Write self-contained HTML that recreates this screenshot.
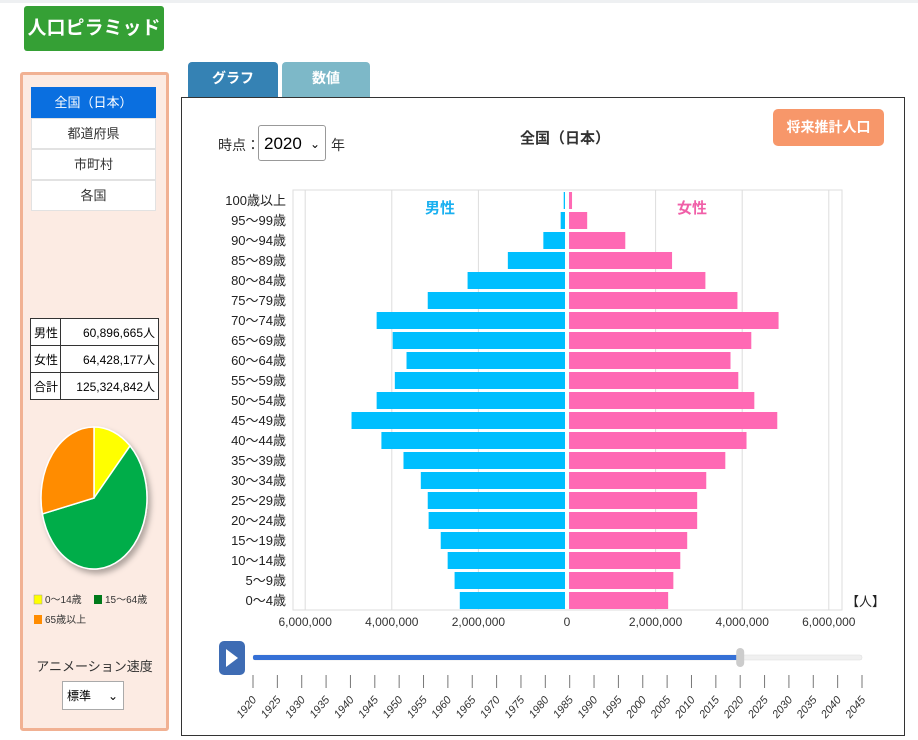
<!DOCTYPE html>
<html><head><meta charset="utf-8">
<style>
body{margin:0;width:918px;height:740px;background:#fff;font-family:"Liberation Sans","Noto Sans CJK JP",sans-serif;position:relative;overflow:hidden}
.abs{position:absolute}
.topline{left:0;top:0;width:918px;height:3px;background:#eef0f2}
.title{left:24px;top:6px;width:140px;height:45px;background:#35a035;border-radius:3px;color:#fff;font-weight:bold;font-size:19px;line-height:45px;text-align:center}
.side{left:20px;top:72px;width:143px;height:653px;background:#fcebe3;border:3px solid #f1b193;border-radius:3px}
.nav{left:31px;width:123px;height:29px;background:#fff;border:1px solid #e2e2e2;font-size:13px;line-height:29px;text-align:center;color:#333}
table.st{position:absolute;left:30px;top:318px;width:128px;border-collapse:collapse;font-size:12px;background:#fff;table-layout:fixed}
table.st td{border:1px solid #333;height:26px;padding:0 3px;white-space:nowrap;overflow:hidden}
.tab{top:62px;height:35px;border-radius:4px 4px 0 0;color:#fff;font-weight:bold;font-size:14px;line-height:32px;text-align:center}
.panel{left:181px;top:97px;width:722px;height:637px;border:1px solid #333}
</style></head><body>
<div class="abs topline"></div>
<div class="abs title">人口ピラミッド</div>
<div class="abs side"></div>
<div class="abs nav" style="top:87px;background:#0a6fe0;color:#fff;border-color:#0a6fe0">全国（日本）</div>
<div class="abs nav" style="top:118px">都道府県</div>
<div class="abs nav" style="top:149px">市町村</div>
<div class="abs nav" style="top:180px">各国</div>
<table class="st">
<colgroup><col style="width:30px"><col style="width:98px"></colgroup>
<tr><td>男性</td><td style="text-align:right">60,896,665人</td></tr>
<tr><td>女性</td><td style="text-align:right">64,428,177人</td></tr>
<tr><td>合計</td><td style="text-align:right">125,324,842人</td></tr>
</table>
<svg class="abs" style="left:20px;top:410px" width="150" height="230">
<defs><filter id="sh"><feDropShadow dx="3" dy="4" stdDeviation="3" flood-opacity="0.3"/></filter></defs>
<g id="pie" filter="url(#sh)"></g>
<rect x="14" y="185" width="8" height="9" fill="#ffff00" stroke="#999" stroke-width="0.5"/><text x="25" y="193" font-size="10" fill="#333">0〜14歳</text>
<rect x="74" y="185" width="8" height="9" fill="#007a1a"/><text x="85" y="193" font-size="10" fill="#333">15〜64歳</text>
<rect x="14" y="205" width="8" height="9" fill="#ff8c00"/><text x="25" y="213" font-size="10" fill="#333">65歳以上</text>
</svg>
<div class="abs" style="left:20px;top:656px;width:149px;text-align:center;font-size:13px;color:#333">アニメーション速度</div>
<div class="abs" style="left:62px;top:681px;width:62px;height:29px;border:1px solid #aaa;background:#fff;font-size:12px;line-height:29px;padding-left:4px;box-sizing:border-box">標準<span style="position:absolute;right:5px">⌄</span></div>

<div class="abs tab" style="left:188px;width:90px;background:#3582b4">グラフ</div>
<div class="abs tab" style="left:282px;width:88px;background:#7db8c8">数値</div>
<div class="abs panel"></div>
<div class="abs" style="left:218px;top:135px;font-size:14px;color:#333">時点：</div>
<div class="abs" style="left:258px;top:125px;width:68px;height:36px;border:1px solid #999;border-radius:3px;font-size:17px;line-height:36px;padding-left:5px;box-sizing:border-box;background:#fff">2020<span style="position:absolute;right:5px;font-size:12px">⌄</span></div>
<div class="abs" style="left:331px;top:135px;font-size:14px;color:#333">年</div>
<div class="abs" style="left:500px;top:127px;width:130px;text-align:center;font-size:15px;font-weight:bold;color:#333">全国（日本）</div>
<div class="abs" style="left:773px;top:109px;width:111px;height:37px;background:#f7976a;border-radius:5px;color:#fff;font-weight:bold;font-size:14px;line-height:37px;text-align:center">将来推計人口</div>

<svg class="abs" style="left:0;top:0" width="918" height="740" id="chart"></svg>

<script>
const ages=["100歳以上","95〜99歳","90〜94歳","85〜89歳","80〜84歳","75〜79歳","70〜74歳","65〜69歳","60〜64歳","55〜59歳","50〜54歳","45〜49歳","40〜44歳","35〜39歳","30〜34歳","25〜29歳","20〜24歳","15〜19歳","10〜14歳","5〜9歳","0〜4歳"];
const male=[0.03,0.1,0.5,1.32,2.25,3.17,4.35,3.98,3.66,3.93,4.35,4.93,4.24,3.73,3.33,3.17,3.15,2.87,2.71,2.55,2.43];
const female=[0.07,0.42,1.3,2.38,3.15,3.89,4.84,4.21,3.73,3.91,4.28,4.81,4.1,3.61,3.17,2.96,2.96,2.73,2.57,2.41,2.29];
const ticks=[6,4,2,0,2,4,6];
const tickLabels=["6,000,000","4,000,000","2,000,000","0","2,000,000","4,000,000","6,000,000"];
const years=[1920,1925,1930,1935,1940,1945,1950,1955,1960,1965,1970,1975,1980,1985,1990,1995,2000,2005,2010,2015,2020,2025,2030,2035,2040,2045];
const currentYear=2020;
const pieLabels=["0〜14歳","15〜64歳","65歳以上"];
const pieValues=[11.9,59.5,28.6];
const pieColors=["#ffff00","#00ad4a","#ff8c00"];

const NS="http://www.w3.org/2000/svg";
const svg=document.getElementById('chart');
function mk(tag,attrs,parent){const e=document.createElementNS(NS,tag);for(const k in attrs)e.setAttribute(k,attrs[k]);(parent||svg).appendChild(e);return e;}
const cx=567,scale=43.3,top0=190,rowH=20;
const xMale=v=>cx-2-v*scale, xFem=v=>cx+2+v*scale;
const yRow=i=>top0+i*rowH;
let f=mk('rect',{x:293,y:190,width:549,height:420,fill:'#fff',stroke:'#ddd'});


ticks.forEach((t,i)=>{const x=i<3?xMale(t):(i==3?cx:xFem(t));
 if(i!=3){let g=mk('line',{x1:x,x2:x,y1:190,y2:610,stroke:'#ddd'});
 
 }
 let tx=mk('text',{x:x,y:626,'font-size':12,'text-anchor':'middle',fill:'#333'});tx.textContent=tickLabels[i];
 
 
});
ages.forEach((a,i)=>{
 const y=yRow(i);
 let t=mk('text',{x:286,y:y+15,'font-size':13,'text-anchor':'end',fill:'#222'});t.textContent=a;
 
 
 let m=mk('rect',{x:xMale(male[i]),y:y+2,width:male[i]*scale,height:17,fill:'#00bfff'});
 
 
 let fe=mk('rect',{x:cx+2,y:y+2,width:female[i]*scale,height:17,fill:'#ff69b4'});
 
 
});
let ml=mk('text',{x:440,y:213,'font-size':15,'font-weight':'bold','text-anchor':'middle',fill:'#1ab0f0'});ml.textContent='男性';


let fl=mk('text',{x:692,y:213,'font-size':15,'font-weight':'bold','text-anchor':'middle',fill:'#f05fa8'});fl.textContent='女性';


let un=mk('text',{x:846,y:606,'font-size':13,fill:'#222'});un.textContent='【人】';


let pb=mk('rect',{x:219,y:641,width:26,height:34,rx:5,fill:'#3e6cb4'});


mk('path',{d:'M226 649 L238 658 L226 667 Z',fill:'#fff'});
const yx=y=>253+(y-1920)/(2045-1920)*(862-253);
let tr=mk('rect',{x:253,y:655,width:609,height:5,rx:2,fill:'#f0f0f0',stroke:'#ddd','stroke-width':0.5});


mk('rect',{x:253,y:655,width:yx(currentYear)-253,height:5,rx:2,fill:'#3570d6'});
let th=mk('rect',{x:yx(currentYear)-4,y:648,width:8,height:19,rx:4,fill:'#ccc'});


years.forEach(y=>{const x=yx(y);
 mk('line',{x1:x,x2:x,y1:675,y2:688,stroke:'#777'});
 let t=mk('text',{x:x+4,y:700,'font-size':11,'text-anchor':'end',fill:'#333','font-style':'italic',transform:`rotate(-50 ${x+4} 700)`});t.textContent=y;
 
 
});
const pg=document.getElementById('pie');
const pcx=74,pcy=88,rx=53,ry=71;
let tot=pieValues.reduce((a,b)=>a+b,0),acc=0;
pieValues.forEach((v,i)=>{
 const a0=acc/tot*2*Math.PI;acc+=v;const a1=acc/tot*2*Math.PI;
 const p=a=>[pcx+rx*Math.sin(a),pcy-ry*Math.cos(a)];
 const [x0,y0]=p(a0),[x1,y1]=p(a1);
 const s=mk('path',{d:`M${pcx} ${pcy} L${x0} ${y0} A${rx} ${ry} 0 ${a1-a0>Math.PI?1:0} 1 ${x1} ${y1} Z`,fill:pieColors[i],stroke:'#fff','stroke-width':1.5},pg);
 
 
});
</script>
</body></html>
